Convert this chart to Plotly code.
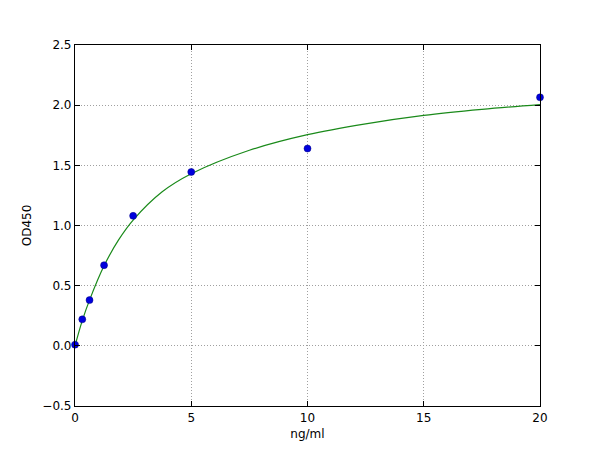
import plotly.graph_objects as go

# standard points (ng/ml vs OD450)
conc = [0, 0.3125, 0.625, 1.25, 2.5, 5, 10, 20]
od = [0.01, 0.22, 0.38, 0.67, 1.08, 1.445, 1.64, 2.065]

# fitted curve
fit_x = [0, 0.3125, 0.625, 1.25, 1.875, 2.5, 3.75, 5, 7.5, 10, 12.5, 15, 17.5, 20]
fit_y = [0.0, 0.21, 0.38, 0.665, 0.88, 1.045, 1.28, 1.43, 1.625, 1.755, 1.845, 1.915, 1.965, 2.005]

fig = go.Figure()

fig.add_trace(go.Scatter(x=fit_x, y=fit_y, mode='lines',
                         line=dict(color='#1a8a1a', width=1.2, shape='spline'),
                         showlegend=False))
fig.add_trace(go.Scatter(x=conc, y=od, mode='markers',
                         marker=dict(color='#0000dd', size=7, line=dict(color='#000080', width=0.5)),
                         showlegend=False, cliponaxis=False))

axis_style = dict(showline=True, linecolor='black', linewidth=1.2, mirror='allticks',
                  ticks='inside', ticklen=5, tickcolor='black',
                  showgrid=True, gridcolor='#a0a0a0', griddash='1px,2px', gridwidth=1,
                  zeroline=False, tickfont=dict(size=12, color='black'))

fig.update_xaxes(range=[0, 20], tickvals=[0, 5, 10, 15, 20],
                 title=dict(text='ng/ml', font=dict(size=12, color='black'), standoff=6),
                 **axis_style)
fig.update_yaxes(range=[-0.5, 2.5], tickvals=[-0.5, 0, 0.5, 1, 1.5, 2, 2.5], tickformat='.1f',
                 title=dict(text='OD450', font=dict(size=12, color='black'), standoff=8),
                 **axis_style)

# page body adds an 8px offset, so margins are shifted to compensate
fig.update_layout(width=600, height=450,
                  margin=dict(l=67, r=68, t=37, b=52),
                  paper_bgcolor='white', plot_bgcolor='white',
                  font=dict(family='DejaVu Sans', size=12, color='black'))

fig.write_html("out.html")
